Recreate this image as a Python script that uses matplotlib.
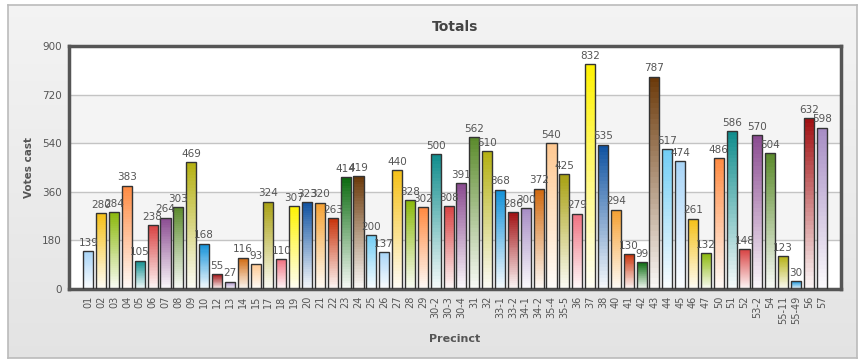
import numpy as np
import matplotlib.pyplot as plt
from matplotlib.colors import to_rgb

precincts = ['01', '02', '03', '04', '05', '06', '07', '08', '09', '10',
             '12', '13', '14', '15', '17', '18', '19', '20', '21', '22',
             '23', '24', '25', '26', '27', '28', '29', '30-2', '30-3', '30-4',
             '31', '32', '33-1', '33-2', '34-1', '34-2', '35-4', '35-5', '36', '37',
             '38', '40', '41', '42', '43', '44', '45', '46', '47', '50',
             '51', '52', '53-2', '54', '55-11', '55-49', '56', '57']
votes = [139, 280, 284, 383, 105, 238, 264, 303, 469, 168,
         55, 27, 116, 93, 324, 110, 307, 323, 320, 263,
         414, 419, 200, 137, 440, 328, 302, 500, 308, 391,
         562, 510, 368, 286, 300, 372, 540, 425, 279, 832,
         535, 294, 130, 99, 787, 517, 474, 261, 132, 486,
         586, 148, 570, 504, 123, 30, 632, 598]
yticks = [0, 180, 360, 540, 720, 900]

palette = ['#a8d4f7', '#f5c016', '#8ab80a', '#ff8a40', '#0e8c8c', '#d84040',
           '#8a4a90', '#5a8a2a', '#b4b010', '#1090d8', '#a00e10', '#a68cc4',
           '#d0680c', '#ffc890', '#a8a010', '#f07080', '#fff200', '#0c50a0',
           '#f5a030', '#c83008', '#0a6a0e', '#6a3808', '#70cdf5']

W, H = 863, 363
fig = plt.figure(figsize=(W / 100, H / 100), dpi=100)
fig.patch.set_facecolor('white')

# outer panel with soft vertical gradient (thin horizontal strips)
bg = fig.add_axes([8 / W, 1 - 358 / H, 849 / W, 353 / H], zorder=-5)
top_c = np.array(to_rgb('#f3f3f3'))
bot_c = np.array(to_rgb('#e3e3e3'))
n_strips = 60
for k in range(n_strips):
    f = k / (n_strips - 1)
    bg.axhspan(1 - (k + 1) / n_strips, 1 - k / n_strips, color=top_c * (1 - f) + bot_c * f, lw=0)
bg.set_xlim(0, 1)
bg.set_ylim(0, 1)
bg.set_xticks([])
bg.set_yticks([])
for s in bg.spines.values():
    s.set_color('#bbbbbb')
    s.set_linewidth(1.2)

ax = fig.add_axes([69 / W, 1 - 289 / H, 772 / W, 243 / H])
ax.set_facecolor('white')
x = np.arange(len(precincts))

# alternating bands
for i in range(len(yticks) - 1):
    ax.axhspan(yticks[i], yticks[i + 1], facecolor='white' if i % 2 == 0 else '#f4f4f4', zorder=0, lw=0)
for t in yticks[1:-1]:
    ax.axhline(t, color='#c4c4c4', lw=1.0, zorder=0.5)

# gradient fill: each bar built from stacked slices, colour fading to white at the base
n_seg = 40
vals = np.array(votes, dtype=float)
for k in range(n_seg):
    f = (k + 0.5) / n_seg  # 0 bottom -> 1 top
    cols = []
    for i in range(len(vals)):
        c = np.array(to_rgb(palette[i % len(palette)]))
        light = c * 0.03 + 0.97
        cols.append(c * f + light * (1 - f))
    ax.bar(x, vals / n_seg, bottom=vals * k / n_seg, width=0.78, color=cols,
           linewidth=0, antialiased=False, zorder=2)

bars = ax.bar(x, votes, width=0.78, facecolor='none', edgecolor='#333333', linewidth=1.0, zorder=3)
for i, b in enumerate(bars):
    ax.text(b.get_x() + b.get_width() / 2, b.get_height() + 12, str(votes[i]),
            ha='center', va='bottom', fontsize=7.5, color='#555555', zorder=4)

ax.set_xlim(-1.5, len(precincts) + 0.5)
ax.set_ylim(0, 900)
ax.set_yticks(yticks)
ax.set_yticklabels([str(t) for t in yticks], fontsize=7.5, color='#555555')
ax.set_xticks(x)
ax.set_xticklabels(precincts, rotation=90, fontsize=7, color='#555555')
ax.tick_params(length=0, pad=5)
for s in ax.spines.values():
    s.set_color('#555555')
    s.set_linewidth(2.5)

ax.set_title('Totals', fontsize=10, fontweight='bold', color='#444444', pad=11)
ax.set_ylabel('Votes cast', fontsize=7.5, fontweight='bold', color='#555555', labelpad=6)
ax.set_xlabel('Precinct', fontsize=8, fontweight='bold', color='#555555', labelpad=7)

fig.savefig('out.png', dpi=100, facecolor=fig.get_facecolor())
